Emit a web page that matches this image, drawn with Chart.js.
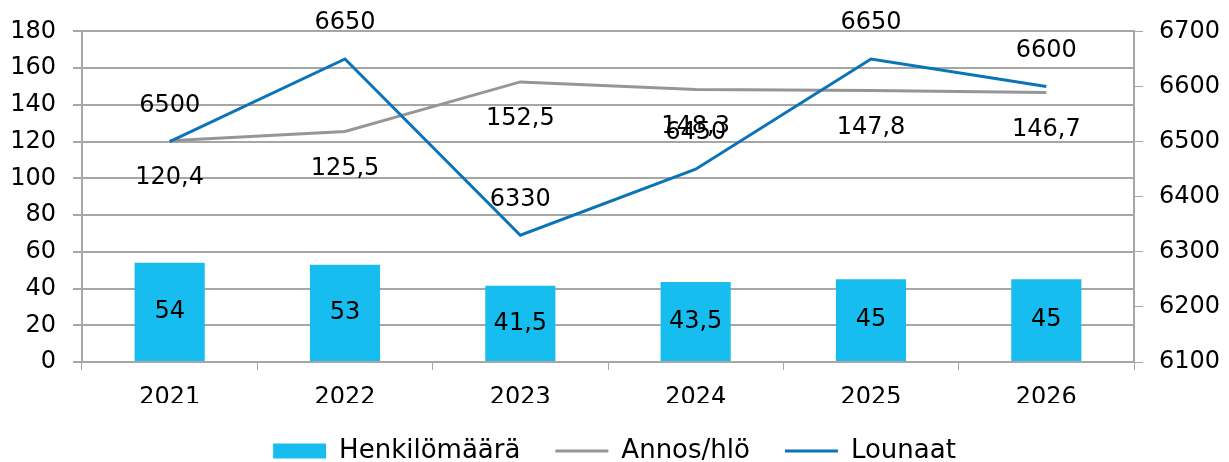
<!DOCTYPE html>
<html>
<head>
<meta charset="utf-8">
<script src="https://cdn.jsdelivr.net/npm/chart.js@4.4.1/dist/chart.umd.min.js"></script>
<style>
  html, body { margin: 0; padding: 0; background: #fff; }
  #wrap { width: 1229px; height: 462px; }
</style>
</head>
<body>
<div id="wrap"><canvas id="kaavio"></canvas></div>
<script>
const vuodet = ['2021', '2022', '2023', '2024', '2025', '2026'];
const henkilomaara = [54, 53, 41.5, 43.5, 45, 45];
const annosHlo = [120.4, 125.5, 152.5, 148.3, 147.8, 146.7];
const lounaat = [6500, 6650, 6330, 6450, 6650, 6600];

const fontti = "'DejaVu Sans', sans-serif";
const harmaa = '#a6a6a6';

const luku = (v) => String(v).replace('.', ',');

// arvojen tekstit suoraan kuvaan
const arvoTekstit = {
    id: 'arvoTekstit',
    afterDatasetsDraw(chart) {
        const ctx = chart.ctx;
        ctx.save();
        ctx.font = '24px ' + fontti;
        ctx.fillStyle = '#000';
        ctx.textAlign = 'center';
        ctx.textBaseline = 'middle';
        chart.data.datasets.forEach((ds, i) => {
            const meta = chart.getDatasetMeta(i);
            meta.data.forEach((el, j) => {
                const v = ds.data[j];
                if (ds.type === 'bar') {
                    ctx.fillText(luku(v), el.x, (el.y + el.base) / 2);
                } else if (ds.yAxisID === 'y1') {
                    ctx.fillText(luku(v), el.x, el.y - 36);
                } else {
                    ctx.fillText(luku(v), el.x, el.y + 37);
                }
            });
        });
        ctx.restore();
    }
};

new Chart(document.getElementById('kaavio'), {
    data: {
        labels: vuodet,
        datasets: [
            {
                type: 'bar',
                label: 'Henkilömäärä',
                data: henkilomaara,
                backgroundColor: '#16bdee',
                borderWidth: 0,
                barPercentage: 0.4,
                categoryPercentage: 1,
                yAxisID: 'y',
                pointStyle: 'rect',
                order: 3
            },
            {
                type: 'line',
                label: 'Annos/hlö',
                data: annosHlo,
                borderColor: '#969696',
                backgroundColor: '#969696',
                borderWidth: 3,
                pointRadius: 0,
                tension: 0,
                yAxisID: 'y',
                pointStyle: 'line',
                order: 2
            },
            {
                type: 'line',
                label: 'Lounaat',
                data: lounaat,
                borderColor: '#0b73b7',
                backgroundColor: '#0b73b7',
                borderWidth: 3,
                pointRadius: 0,
                tension: 0,
                yAxisID: 'y1',
                pointStyle: 'line',
                order: 1
            }
        ]
    },
    options: {
        responsive: true,
        maintainAspectRatio: false,
        animation: false,
        layout: { padding: { top: 18, left: 0, right: 0, bottom: -12 } },
        plugins: {
            tooltip: { enabled: false },
            legend: {
                position: 'bottom',
                labels: {
                    usePointStyle: true,
                    pointStyleWidth: 53,
                    boxHeight: 15,
                    padding: 35,
                    color: '#000',
                    font: { family: fontti, size: 26 },
                    sort: (a, b) => a.datasetIndex - b.datasetIndex
                }
            }
        },
        scales: {
            x: {
                grid: { drawOnChartArea: false, drawTicks: true, tickLength: 8, color: harmaa },
                border: { color: harmaa, width: 2 },
                ticks: { color: '#000', font: { family: fontti, size: 24 }, padding: 13 },
                afterFit: (s) => { s.height = 41; }
            },
            y: {
                position: 'left',
                min: 0,
                max: 180,
                ticks: { stepSize: 20, color: '#000', font: { family: fontti, size: 24 }, padding: 17 },
                grid: { color: harmaa, lineWidth: 2, tickLength: 9 },
                border: { color: harmaa, width: 2 },
                afterFit: (s) => { s.width = 82; }
            },
            y1: {
                position: 'right',
                min: 6100,
                max: 6700,
                ticks: {
                    stepSize: 100,
                    color: '#000',
                    font: { family: fontti, size: 24 },
                    padding: 16,
                    callback: (v) => String(v)
                },
                grid: { drawOnChartArea: false, color: harmaa, tickLength: 9 },
                border: { color: harmaa, width: 2 },
                afterFit: (s) => { s.width = 95; }
            }
        }
    },
    plugins: [arvoTekstit]
});
</script>
</body>
</html>
